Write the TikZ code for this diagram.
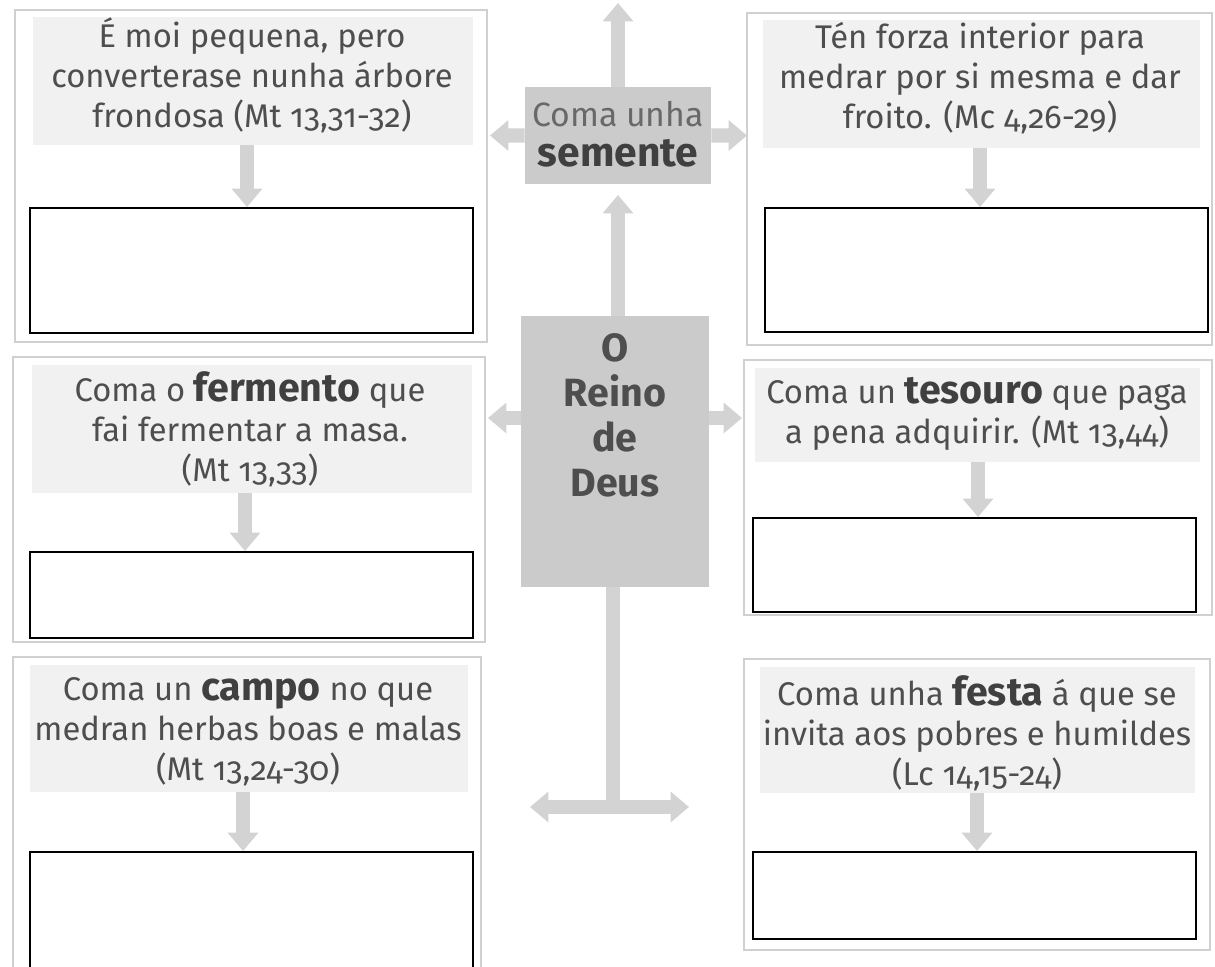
\documentclass[tikz,border=0pt]{standalone}
\usepackage{fontspec}
\setmainfont{Fira Sans}[Numbers=OldStyle]
\usetikzlibrary{arrows.meta,fit}
\definecolor{framegray}{HTML}{D0D0D0}
\definecolor{bggray}{HTML}{F1F1F1}
\definecolor{boxgray}{HTML}{CBCBCB}
\definecolor{arrowgray}{HTML}{D3D3D3}
\definecolor{txtgray}{HTML}{4E4E4E}
\definecolor{boldgray}{HTML}{404040}
\newcommand{\kw}[1]{{\bfseries\fontsize{28}{28.5}\selectfont\color{boldgray}#1}}
\begin{document}
\begin{tikzpicture}[x=0.025cm,y=-0.025cm,
  frame/.style={draw=framegray,line width=0.8pt,inner sep=0pt},
  textbg/.style={fill=bggray,inner sep=0pt},
  paneltext/.style={text=txtgray,align=center,inner sep=0pt,font=\fontsize{23.3}{28.5}\selectfont},
  answer/.style={draw=black,line width=1.4pt,fill=white,inner sep=0pt},
  central/.style={fill=boxgray,inner sep=0pt},
  bigarrow/.style={draw=arrowgray,line width=10pt,-{Triangle[width=21pt,length=13pt]}},
  dblarrow/.style={draw=arrowgray,line width=10pt,{Triangle[width=21pt,length=13pt]}-{Triangle[width=21pt,length=13pt]}},
  shaft/.style={draw=arrowgray,line width=10pt},
]
\clip (0,0) rectangle (1215,966);
\fill[white] (0,0) rectangle (1215,966);

% outer frames
\node[frame,fit={(15,10) (487,342)}] (F1) {};
\node[frame,fit={(747,13) (1212,345)}] (F2) {};
\node[frame,fit={(13,357) (485,642)}] (F3) {};
\node[frame,fit={(744,360) (1212,615)}] (F4) {};
\node[frame,fit={(13,657) (481,990)}] (F5) {};
\node[frame,fit={(744,659) (1210,950)}] (F6) {};

% text panels
\node[textbg,fit={(33,17) (473,145)}] (T1) {};
\node[textbg,fit={(763,20) (1200,148)}] (T2) {};
\node[textbg,fit={(32,365) (472,493)}] (T3) {};
\node[textbg,fit={(755,368) (1200,462)}] (T4) {};
\node[textbg,fit={(30,665) (468,792)}] (T5) {};
\node[textbg,fit={(760,667) (1195,793)}] (T6) {};

% answer boxes
\node[answer,fit={(30,208) (473,333)}] (B1) {};
\node[answer,fit={(765,208) (1208,332)}] (B2) {};
\node[answer,fit={(30,552) (473,638)}] (B3) {};
\node[answer,fit={(753,518) (1196,612)}] (B4) {};
\node[answer,fit={(30,852) (473,1000)}] (B5) {};
\node[answer,fit={(753,852) (1196,939)}] (B6) {};

% small arrows
\coordinate (x1) at (247,0);
\coordinate (x2) at (980,0);
\coordinate (x3) at (245,0);
\coordinate (x4) at (978,0);
\coordinate (x5) at (243,0);
\coordinate (x6) at (977,0);
\foreach \i in {1,...,6}{
  \draw[bigarrow] (T\i.south -| x\i) -- (B\i.north -| x\i);
}

% central boxes
\node[central,fit={(525,87) (711,184)}] (sem) {};
\node[central,fit={(521,316) (709,587)}] (reino) {};

\coordinate (lvl) at (0,418);
\coordinate (tmid) at (613,807);
\coordinate (tl) at (530,807);
\coordinate (tr) at (689,807);
\coordinate (topend) at (618,3);
\coordinate (semL) at (490,135.5);
\coordinate (semR) at (747,135.5);
\coordinate (reL) at (488,418);
\coordinate (reR) at (742,418);
\coordinate (upend) at (618,195);

% central arrows
\draw[bigarrow] (sem.north -| topend) -- (topend);
\draw[bigarrow] (sem.west) -- (semL);
\draw[bigarrow] (sem.east) -- (semR);
\draw[bigarrow] (reino.north -| upend) -- (upend);
\draw[bigarrow] (reino.west |- lvl) -- (reL);
\draw[bigarrow] (reino.east |- lvl) -- (reR);
\draw[shaft] (reino.south -| tmid) -- ([yshift=-5pt]tmid);
\draw[dblarrow] (tl) -- (tr);

% texts
\node[paneltext] (L1) at (252,75.5) {É moi pequena, pero\\converterase nunha árbore\\frondosa (Mt 13,31-32)};
\node[paneltext] (L2) at (980,78) {Tén forza interior para\\medrar por si mesma e dar\\froito. (Mc 4,26-29)};
\node[paneltext] (L3) at (250,429) {Coma o \kw{fermento} que\\fai fermentar a masa.\\(Mt 13,33)};
\node[paneltext] (L4) at (977,414) {Coma un \kw{tesouro} que paga\\a pena adquirir. (Mt 13,44)};
\node[paneltext] (L5) at (248,732) {Coma un \kw{campo} no que\\medran herbas boas e malas\\(Mt 13,24-30)};
\node[paneltext] (L6) at (977,733) {Coma unha \kw{festa} á que se\\invita aos pobres e humildes\\(Lc 14,15-24)};

\node[text=txtgray,align=center,inner sep=0pt,font=\fontsize{24}{28.5}\selectfont] (semtxt) at (618,134)
  {\color{txtgray!85!white}Coma unha\\{\bfseries\fontsize{29}{28.5}\selectfont\color{boldgray}semente}};
\node[text=txtgray,align=center,inner sep=0pt,font=\bfseries\fontsize{28}{32}\selectfont] (reinotxt) at (615,415) {O\\Reino\\de\\Deus};
\end{tikzpicture}
\end{document}
